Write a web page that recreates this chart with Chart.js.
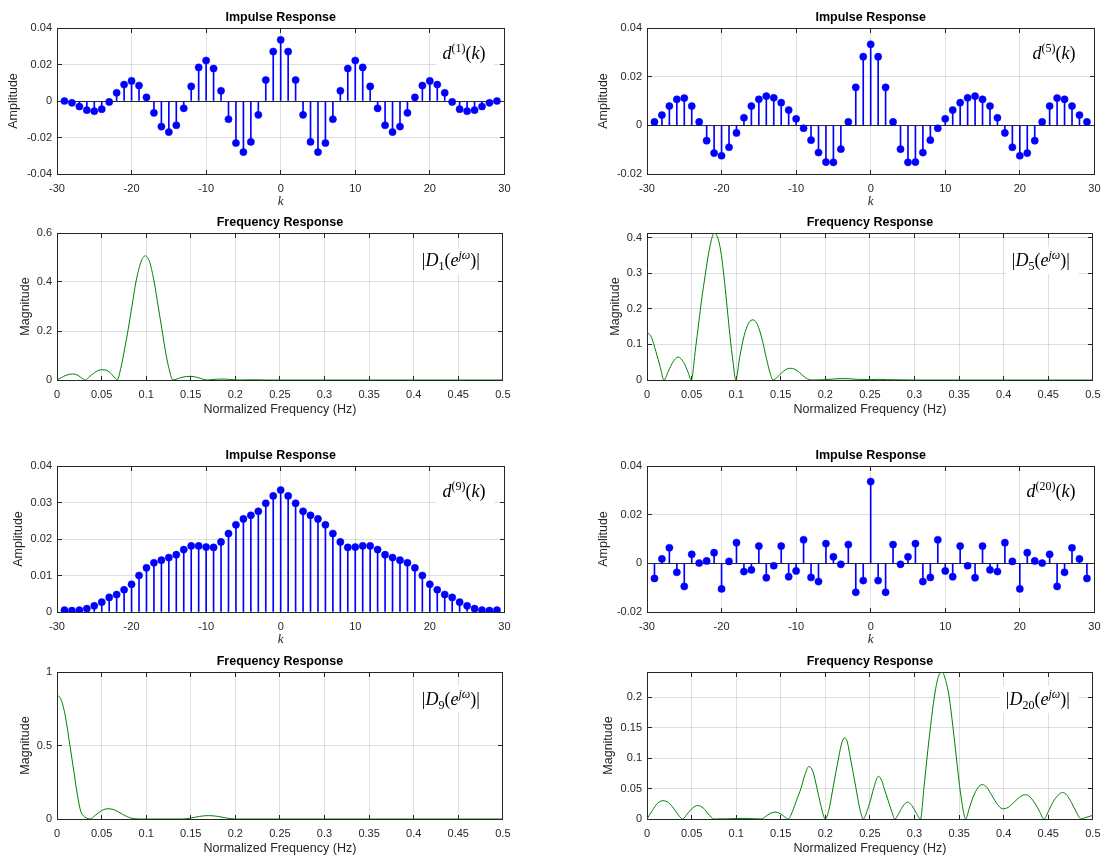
<!DOCTYPE html>
<html>
<head>
<meta charset="utf-8">
<title>Impulse and frequency responses</title>
<script src="https://cdn.jsdelivr.net/npm/chart.js@4.4.1/dist/chart.umd.min.js"></script>
<style>
  html, body { margin: 0; padding: 0; background: #fff; overflow: hidden; }
  #fig { position: relative; width: 1110px; height: 861px; }
  #fig canvas { position: absolute; }
</style>
</head>
<body>
<div id="fig"></div>
<script>
// sample index k
const kIdx = [-29, -28, -27, -26, -25, -24, -23, -22, -21, -20, -19, -18, -17, -16, -15,
  -14, -13, -12, -11, -10, -9, -8, -7, -6, -5, -4, -3, -2, -1, 0,
  1, 2, 3, 4, 5, 6, 7, 8, 9, 10, 11, 12, 13, 14, 15,
  16, 17, 18, 19, 20, 21, 22, 23, 24, 25, 26, 27, 28, 29];

// impulse responses d^(n)(k)
const d1 = [0.0, -0.001, -0.003, -0.005, -0.0056, -0.0045, -0.0005, 0.0045, 0.009, 0.011,
  0.0085, 0.002, -0.0065, -0.014, -0.017, -0.0133, -0.004, 0.008, 0.0184, 0.0222,
  0.0178, 0.0056, -0.010, -0.023, -0.028, -0.0224, -0.0076, 0.0115, 0.0271, 0.0335,
  0.0271, 0.0115, -0.0076, -0.0224, -0.028, -0.023, -0.010, 0.0056, 0.0178, 0.0222,
  0.0184, 0.008, -0.004, -0.0133, -0.017, -0.014, -0.0065, 0.002, 0.0085, 0.011,
  0.009, 0.0045, -0.0005, -0.0045, -0.0056, -0.005, -0.003, -0.001, 0.0];

const d5 = [0.0014, 0.0042, 0.0079, 0.0107, 0.0112, 0.0079, 0.0014, -0.0063, -0.0114, -0.0125,
  -0.009, -0.0031, 0.0031, 0.0079, 0.0107, 0.012, 0.0113, 0.0093, 0.0063, 0.0027,
  -0.0012, -0.0061, -0.0112, -0.0151, -0.0152, -0.0098, 0.0014, 0.0156, 0.0282, 0.0333,
  0.0282, 0.0156, 0.0014, -0.0098, -0.0152, -0.0151, -0.0112, -0.0061, -0.0012, 0.0027,
  0.0063, 0.0093, 0.0113, 0.012, 0.0107, 0.0079, 0.0031, -0.0031, -0.009, -0.0125,
  -0.0114, -0.0063, 0.0014, 0.0079, 0.0112, 0.0107, 0.0079, 0.0042, 0.0014];

const d9 = [0.0005, 0.0004, 0.0005, 0.0009, 0.0017, 0.0027, 0.004, 0.0048, 0.0061, 0.0076,
  0.010, 0.0121, 0.0135, 0.0142, 0.0149, 0.0157, 0.0171, 0.0181, 0.0181, 0.0178,
  0.0177, 0.0192, 0.0215, 0.0239, 0.0255, 0.0265, 0.0276, 0.0298, 0.0318, 0.0334,
  0.0318, 0.0298, 0.0276, 0.0265, 0.0255, 0.0239, 0.0215, 0.0192, 0.0177, 0.0178,
  0.0181, 0.0181, 0.0171, 0.0157, 0.0149, 0.0142, 0.0135, 0.0121, 0.010, 0.0076,
  0.0061, 0.0048, 0.004, 0.0027, 0.0017, 0.0009, 0.0005, 0.0004, 0.0005];

const d20 = [-0.0062, 0.0018, 0.0064, -0.0037, -0.0095, 0.0037, 0.0001, 0.001, 0.0044, -0.0105,
  0.0008, 0.0085, -0.0034, -0.0027, 0.0071, -0.0059, -0.001, 0.0071, -0.0055, -0.0031,
  0.0097, -0.0058, -0.0075, 0.0081, 0.0027, -0.0004, 0.0077, -0.0119, -0.0071, 0.0336,
  -0.0071, -0.0119, 0.0077, -0.0004, 0.0027, 0.0081, -0.0075, -0.0058, 0.0097, -0.0031,
  -0.0055, 0.0071, -0.001, -0.0059, 0.0071, -0.0027, -0.0034, 0.0085, 0.0008, -0.0105,
  0.0044, 0.001, 0.0001, 0.0037, -0.0095, -0.0037, 0.0064, 0.0018, -0.0062];

// magnitude responses |D_n(e^jw)| sampled on their own frequency grids
const f1 = [0, 0.005, 0.01, 0.0175, 0.024, 0.028, 0.032, 0.036, 0.042, 0.047, 0.0515, 0.056,
  0.061, 0.065, 0.0675, 0.072, 0.076, 0.0795, 0.084, 0.0885, 0.094, 0.099, 0.104, 0.109,
  0.1135, 0.118, 0.1215, 0.125, 0.13, 0.135, 0.14, 0.15, 0.158, 0.164, 0.168, 0.175,
  0.185, 0.195, 0.205, 0.22, 0.235, 0.25, 0.3, 0.35, 0.4, 0.45, 0.5];
const mag1 = [0, 0.01, 0.019, 0.0245, 0.018, 0.007, 0, 0.012, 0.03, 0.04, 0.042, 0.039,
  0.025, 0.008, 0, 0.056, 0.13, 0.2, 0.3, 0.4, 0.48, 0.507, 0.48, 0.4,
  0.3, 0.2, 0.12, 0.056, 0, 0.005, 0.011, 0.015, 0.01, 0.003, 0, 0.002,
  0.004, 0.002, 0, 0.001, 0, 0, 0, 0, 0, 0, 0];

const f5 = [0, 0.005, 0.01, 0.015, 0.019, 0.024, 0.029, 0.035, 0.041, 0.046,
  0.0496, 0.0545, 0.058, 0.0615, 0.065, 0.068, 0.071, 0.0735, 0.0756, 0.078,
  0.081, 0.084, 0.087, 0.09, 0.093, 0.0965, 0.0996, 0.104, 0.109, 0.114,
  0.119, 0.124, 0.129, 0.134, 0.138, 0.1415, 0.146, 0.151, 0.156, 0.161,
  0.166, 0.171, 0.176, 0.18, 0.185, 0.2, 0.21, 0.222, 0.235, 0.25,
  0.26, 0.27, 0.3, 0.35, 0.4, 0.45, 0.5];
const mag5 = [0.135, 0.12, 0.08, 0.035, 0, 0.025, 0.05, 0.0645, 0.05, 0.022,
  0, 0.09, 0.16, 0.23, 0.29, 0.34, 0.38, 0.405, 0.413, 0.407,
  0.385, 0.34, 0.275, 0.2, 0.125, 0.05, 0, 0.065, 0.125, 0.16,
  0.169, 0.155, 0.115, 0.06, 0.02, 0, 0.008, 0.02, 0.03, 0.033,
  0.03, 0.021, 0.01, 0.003, 0, 0.001, 0.003, 0.004, 0.002, 0.001,
  0.002, 0.001, 0, 0, 0, 0, 0];

const f9 = [0, 0.004, 0.008, 0.011, 0.0145, 0.019, 0.023, 0.0265, 0.03, 0.033,
  0.037, 0.041, 0.046, 0.051, 0.057, 0.063, 0.069, 0.075, 0.081, 0.087,
  0.092, 0.1, 0.12, 0.14, 0.15, 0.16, 0.17, 0.18, 0.19, 0.2,
  0.25, 0.3, 0.35, 0.4, 0.45, 0.5];
const mag9 = [0.843, 0.82, 0.74, 0.64, 0.5, 0.32, 0.16, 0.055, 0.02, 0.007,
  0, 0.015, 0.04, 0.06, 0.07, 0.065, 0.048, 0.027, 0.01, 0.002,
  0, 0, 0, 0, 0.006, 0.018, 0.023, 0.018, 0.007, 0,
  0, 0, 0, 0, 0, 0];

const f20 = [0, 0.006, 0.012, 0.018, 0.024, 0.03, 0.035, 0.04, 0.045, 0.051,
  0.057, 0.063, 0.069, 0.075, 0.09, 0.11, 0.128, 0.133, 0.138, 0.1437,
  0.149, 0.154, 0.1585, 0.163, 0.168, 0.1726, 0.177, 0.1815, 0.186, 0.1907,
  0.195, 0.2, 0.204, 0.2085, 0.2148, 0.2185, 0.2215, 0.2245, 0.2281, 0.2344,
  0.2385, 0.2426, 0.2465, 0.2505, 0.2541, 0.2596, 0.2635, 0.266, 0.2705, 0.2745,
  0.278, 0.282, 0.2865, 0.2922, 0.297, 0.3015, 0.3067, 0.3105, 0.314, 0.318,
  0.3222, 0.3265, 0.3307, 0.335, 0.3389, 0.343, 0.347, 0.3505, 0.3537, 0.3574,
  0.3615, 0.366, 0.371, 0.3759, 0.381, 0.387, 0.393, 0.3987, 0.405, 0.412,
  0.418, 0.4232, 0.428, 0.434, 0.44, 0.445, 0.45, 0.455, 0.461, 0.466,
  0.471, 0.476, 0.482, 0.4867, 0.491, 0.5];
const mag20 = [0, 0.014, 0.026, 0.030, 0.027, 0.017, 0.007, 0, 0.008, 0.018,
  0.022, 0.018, 0.008, 0, 0.0003, 0.001, 0, 0.004, 0.009, 0.0114,
  0.009, 0.004, 0, 0.012, 0.032, 0.05, 0.072, 0.086, 0.078, 0.05,
  0.022, 0, 0.015, 0.05, 0.1, 0.125, 0.133, 0.127, 0.1, 0.05,
  0.018, 0, 0.012, 0.03, 0.05, 0.07, 0.062, 0.05, 0.03, 0.012,
  0, 0.008, 0.02, 0.0277, 0.022, 0.011, 0, 0.05, 0.1, 0.152,
  0.2, 0.232, 0.241, 0.227, 0.2, 0.152, 0.1, 0.055, 0.022, 0,
  0.018, 0.037, 0.051, 0.0565, 0.052, 0.038, 0.024, 0.0168, 0.019, 0.028,
  0.036, 0.0397, 0.038, 0.028, 0.013, 0, 0.012, 0.027, 0.039, 0.0435,
  0.039, 0.027, 0.01, 0, 0.002, 0.006];

// tick labels
const kTicks = [-30, -20, -10, 0, 10, 20, 30];
const freqTicks = [0, 0.05, 0.1, 0.15, 0.2, 0.25, 0.3, 0.35, 0.4, 0.45, 0.5];
const ampTicks1 = [-0.04, -0.02, 0, 0.02, 0.04];
const ampTicks5 = [-0.02, 0, 0.02, 0.04];
const ampTicks9 = [0, 0.01, 0.02, 0.03, 0.04];
const ampTicks20 = [-0.02, 0, 0.02, 0.04];
const magTicks1 = [0, 0.2, 0.4, 0.6];
const magTicks5 = [0, 0.1, 0.2, 0.3, 0.4];
const magTicks9 = [0, 0.5, 1];
const magTicks20 = [0, 0.05, 0.1, 0.15, 0.2];

const AXIS = '#262626';
const GRID = 'rgba(38,38,38,0.15)';
const STEM = '#0000ff';
const CURVE = '#008000';
const SANS = '"Liberation Sans", Arial, Helvetica, sans-serif';
const SERIF = '"Liberation Serif", "Times New Roman", serif';

const colLeft = [57, 647];
const plotW = 450;
const padL = 57, padR = 12, padT = 36, padB = 42;

const pts = (xs, ys) => xs.map((x, i) => ({ x: x, y: ys[i] }));
const fmt = v => String(Number(Number(v).toFixed(4)));
const crisp = p => Math.round(p - 0.5) + 0.5;

const panels = [
  { kind: 'stem', col: 0, top: 28, bottom: 174, y: d1, yMin: -0.04, yMax: 0.04, yTicks: ampTicks1, n: '1', yGap: 43.7 },
  { kind: 'stem', col: 1, top: 28, bottom: 174, y: d5, yMin: -0.02, yMax: 0.04, yTicks: ampTicks5, n: '5', yGap: 43.5 },
  { kind: 'freq', col: 0, top: 233, bottom: 380, f: f1, m: mag1, yMin: 0, yMax: 0.6, yTicks: magTicks1, n: '1', yGap: 31.7 },
  { kind: 'freq', col: 1, top: 233, bottom: 380, f: f5, m: mag5, yMin: 0, yMax: Math.max(...mag5), yTicks: magTicks5, n: '5', yGap: 31.7 },
  { kind: 'stem', col: 0, top: 466, bottom: 612, y: d9, yMin: 0, yMax: 0.04, yTicks: ampTicks9, n: '9', yGap: 38.4 },
  { kind: 'stem', col: 1, top: 466, bottom: 612, y: d20, yMin: -0.02, yMax: 0.04, yTicks: ampTicks20, n: '20', yGap: 43.5 },
  { kind: 'freq', col: 0, top: 672, bottom: 819, f: f9, m: mag9, yMin: 0, yMax: 1, yTicks: magTicks9, n: '9', yGap: 31.7 },
  { kind: 'freq', col: 1, top: 672, bottom: 819, f: f20, m: mag20, yMin: 0, yMax: Math.max(...mag20), yTicks: magTicks20, n: '20', yGap: 38.4 }
];

// math-style label pieces: [text, font, baseline shift]
function tagRuns(p) {
  const big = '18px ' + SERIF, bigI = 'italic 18px ' + SERIF;
  const sm = '12px ' + SERIF, smI = 'italic 12px ' + SERIF;
  if (p.kind === 'stem') {
    return [['d', bigI, 0], ['(' + p.n + ')', sm, -7], ['(', big, 0], ['k', bigI, 0], [')', big, 0]];
  }
  return [['|', big, 0], ['D', bigI, 0], [p.n, sm, 4], ['(', big, 0], ['e', bigI, 0],
    ['j\u03c9', smI, -7], [')', big, 0], ['|', big, 0]];
}

function decorations(p, xTicks) {
  return {
    id: 'decor' ,
    beforeDatasetsDraw(chart) {
      const { ctx, chartArea: a, scales } = chart;
      const L = crisp(a.left), R = crisp(a.right), T = crisp(a.top), B = crisp(a.bottom);
      ctx.save();
      ctx.strokeStyle = AXIS;
      ctx.lineWidth = 1;
      ctx.strokeRect(L, T, R - L, B - T);
      ctx.beginPath();
      xTicks.forEach(v => {
        const x = crisp(scales.x.getPixelForValue(v));
        ctx.moveTo(x, B); ctx.lineTo(x, B - 4.5);
        ctx.moveTo(x, T); ctx.lineTo(x, T + 4.5);
      });
      p.yTicks.forEach(v => {
        const y = crisp(scales.y.getPixelForValue(v));
        ctx.moveTo(L, y); ctx.lineTo(L + 4.5, y);
        ctx.moveTo(R, y); ctx.lineTo(R - 4.5, y);
      });
      ctx.stroke();
      ctx.restore();
    },
    afterDatasetsDraw(chart) {
      const { ctx, chartArea: a } = chart;
      const runs = tagRuns(p);
      ctx.save();
      let w = 0;
      runs.forEach(r => { ctx.font = r[1]; w += ctx.measureText(r[0]).width; });
      const right = a.right - (p.kind === 'stem' ? 19 : 23);
      const base = a.top + (p.kind === 'stem' ? 30.5 : 33);
      const left = right - w;
      ctx.fillStyle = '#ffffff';
      ctx.fillRect(left - 6, base - 19, w + 15, 27);
      ctx.fillStyle = '#000000';
      ctx.textBaseline = 'alphabetic';
      ctx.textAlign = 'left';
      let x = left;
      runs.forEach(r => {
        ctx.font = r[1];
        ctx.fillText(r[0], x, base + r[2]);
        x += ctx.measureText(r[0]).width;
      });
      // subplot title
      ctx.font = 'bold 12.5px ' + SANS;
      ctx.textAlign = 'center';
      ctx.textBaseline = 'middle';
      ctx.fillText(p.kind === 'stem' ? 'Impulse Response' : 'Frequency Response',
        (a.left + a.right) / 2, a.top - 10.5);
      ctx.restore();
    }
  };
}

const fig = document.getElementById('fig');

panels.forEach(p => {
  const stem = p.kind === 'stem';
  const xTicks = stem ? kTicks : freqTicks;
  const w = padL + plotW + padR;
  const h = padT + (p.bottom - p.top) + padB;
  const cv = document.createElement('canvas');
  cv.width = w; cv.height = h;
  cv.style.width = w + 'px'; cv.style.height = h + 'px';
  cv.style.left = (colLeft[p.col] - padL) + 'px';
  cv.style.top = (p.top - padT) + 'px';
  fig.appendChild(cv);

  const xFont = stem ? { family: SERIF, size: 13, style: 'italic' } : { family: SANS, size: 12.5 };
  const xLh = xFont.size * 1.2;
  const xOff = stem ? 27.5 : 30;
  const yLh = 12.5 * 1.2;

  const datasets = stem ? [
    { type: 'bar', data: pts(kIdx, p.y), backgroundColor: STEM, borderWidth: 0, barThickness: 1, order: 2 },
    { type: 'scatter', data: pts(kIdx, p.y), pointRadius: 3.6, pointBackgroundColor: STEM,
      pointBorderColor: STEM, pointBorderWidth: 0.5, showLine: false, order: 1 }
  ] : [
    { type: 'line', data: pts(p.f, p.m), borderColor: CURVE, borderWidth: 1, pointRadius: 0,
      cubicInterpolationMode: 'monotone', fill: false }
  ];

  new Chart(cv, {
    type: stem ? 'bar' : 'line',
    data: { datasets: datasets },
    options: {
      responsive: false,
      animation: false,
      events: [],
      layout: { padding: { top: padT, right: padR, bottom: 0, left: 0 } },
      plugins: { legend: { display: false }, tooltip: { enabled: false }, title: { display: false } },
      scales: {
        x: {
          type: 'linear',
          min: stem ? -30 : 0,
          max: stem ? 30 : 0.5,
          offset: false,
          afterBuildTicks: s => { s.ticks = xTicks.map(v => ({ value: v })); },
          afterFit: s => { s.height = padB; },
          grid: { color: GRID, lineWidth: 1, drawTicks: false, offset: false },
          border: { display: false },
          ticks: { padding: 8.5, color: AXIS, font: { family: SANS, size: 11 },
            maxRotation: 0, autoSkip: false, callback: v => fmt(v) },
          title: { display: true, text: stem ? 'k' : 'Normalized Frequency (Hz)', color: AXIS,
            font: xFont, padding: { top: 0, bottom: padB - xOff - xLh / 2 } }
        },
        y: {
          type: 'linear',
          min: p.yMin,
          max: p.yMax,
          afterBuildTicks: s => { s.ticks = p.yTicks.map(v => ({ value: v })); },
          afterFit: s => { s.width = padL; },
          grid: {
            color: c => (stem && c.tick && c.tick.value === 0) ? AXIS : GRID,
            lineWidth: 1, drawTicks: false
          },
          border: { display: false },
          ticks: { padding: 5, color: AXIS, font: { family: SANS, size: 11 }, callback: v => fmt(v) },
          title: { display: true, text: stem ? 'Amplitude' : 'Magnitude', color: AXIS,
            font: { family: SANS, size: 12.5 }, padding: { top: padL - p.yGap - yLh / 2, bottom: 0 } }
        }
      }
    },
    plugins: [decorations(p, xTicks)]
  });
});
</script>
</body>
</html>
